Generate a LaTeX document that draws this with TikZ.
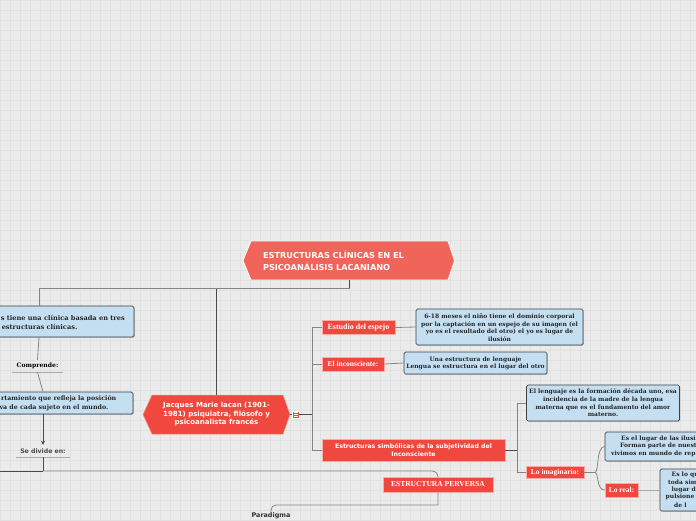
\documentclass[tikz,border=0pt]{standalone}
\usepackage{fontspec}
\setmainfont{Liberation Serif}
\setsansfont{DejaVu Sans}
\newfontfamily\dvserif{DejaVu Serif}
\usetikzlibrary{shadows,arrows.meta}
\definecolor{bgc}{HTML}{EBEBEB}
\definecolor{gridc}{HTML}{E1E1E1}
\definecolor{titlered}{HTML}{F1645A}
\definecolor{nodered}{HTML}{F0483E}
\definecolor{boxblue}{HTML}{C5DFF2}
\definecolor{boxline}{HTML}{3F3F3F}
\definecolor{darkc}{HTML}{4A4A4A}
\definecolor{connc}{HTML}{858585}
\definecolor{lightc}{HTML}{AAAAAA}
\begin{document}
\begin{tikzpicture}[x=1pt,y=-1pt,
  conn/.style={draw=connc, line width=0.8pt},
  dconn/.style={draw=darkc, line width=0.9pt},
  lconn/.style={draw=lightc, line width=1pt},
  bluebox/.style={rectangle, fill=boxblue, draw=boxline, line width=0.7pt, rounded corners=1.5pt, inner sep=0pt,
     drop shadow={shadow xshift=0.8pt, shadow yshift=-0.8pt, opacity=0.35}},
  btext/.style={font=\dvserif\bfseries\fontsize{6}{7.6}\selectfont, align=center, inner sep=0pt, text=black!85},
  redlab/.style={rectangle, fill=nodered, draw=white!55!nodered, line width=0.5pt, inner sep=0pt, text=white,
     font=\rmfamily\bfseries\fontsize{7.5}{8.5}\selectfont,
     drop shadow={shadow xshift=0.6pt, shadow yshift=-0.6pt, opacity=0.3}},
  sublab/.style={inner sep=0pt}
]
\useasboundingbox (0,0) rectangle (696,520);
\begin{scope}
\clip (0,0) rectangle (696,520);
\fill[bgc] (0,0) rectangle (696,520);
\foreach \i in {0,10,...,690} \draw[gridc, line width=0.4pt] (\i,0) -- (\i,520);
\foreach \j in {0,10,...,520} \draw[gridc, line width=0.4pt] (0,\j) -- (696,\j);

% ---------- title ----------
\path[fill=titlered, draw=white, line width=0.8pt] (243,260.5) -- (251,241) -- (448,241) -- (454.5,260.5) -- (448,280) -- (251,280) -- cycle;
\node[inner sep=0pt, minimum width=197, minimum height=39, text width=173, align=left, text=white,
      font=\sffamily\bfseries\fontsize{8.2}{11.6}\selectfont] (title) at (349.5,260.5)
  {ESTRUCTURAS CLÍNICAS EN EL\\PSICOANÁLISIS LACANIANO};

% ---------- Jacques ----------
\path[fill=nodered, draw=white!40!nodered, line width=0.5pt] (143,414.5) -- (152,395) -- (283,395) -- (290,414.5) -- (283,434) -- (152,434) -- cycle;
\node[inner sep=0pt, minimum width=147, minimum height=39, align=center, text=white,
      font=\sffamily\bfseries\fontsize{7}{8.5}\selectfont] (jacques) at (216.5,414.5)
  {Jacques Marie lacan (1901-\\1981) psiquiatra, filósofo y\\psicoanalista francés};
\node[draw=white, fill=nodered, minimum size=7pt, inner sep=0pt, line width=0.5pt] (icon) at (295.5,414.5) {};
\draw[white, line width=0.5pt] (293.5,412.6) -- (297.5,412.6) (293.5,414.5) -- (297.5,414.5) (293.5,416.4) -- (297.5,416.4);

% ---------- left boxes ----------
\node[bluebox, minimum width=190, minimum height=31] (lb1) at (39,321.5) {};
\node[btext, anchor=east, font=\dvserif\bfseries\fontsize{6.6}{9}\selectfont] (lb1a) at (125,318) {s tiene una clínica basada en tres};
\node[btext, anchor=east, font=\dvserif\bfseries\fontsize{6.6}{9}\selectfont] (lb1b) at (77.5,327) {estructuras clínicas.};
\node[sublab, minimum width=51, minimum height=12, font=\dvserif\bfseries\fontsize{6.1}{7}\selectfont] (comp) at (37.5,366) {Comprende:};
\draw[lightc, line width=1.2pt] (comp.south west) -- (comp.south east);
\node[bluebox, minimum width=180, minimum height=22] (lb2) at (43,403) {};
\node[btext, anchor=east, font=\dvserif\bfseries\fontsize{6.3}{8}\selectfont] (lb2a) at (116.5,399) {rtamiento que refleja la posición};
\node[btext, anchor=east, font=\dvserif\bfseries\fontsize{6.3}{8}\selectfont] (lb2b) at (108.5,407.5) {va de cada sujeto en el mundo.};
\node[sublab, text=black!70, minimum width=54, minimum height=12, font=\sffamily\bfseries\fontsize{6.2}{7}\selectfont] (divide) at (43,451) {Se divide en:};
\draw[lightc, line width=1.2pt] (divide.south west) -- (divide.south east);

% ---------- right branch ----------
\node[redlab, minimum width=73, minimum height=14, font=\rmfamily\bfseries\fontsize{8}{9}\selectfont] (estudio) at (358.5,327.5) {Estudio del espejo};
\node[bluebox, minimum width=167, minimum height=36] (blue1) at (499.5,327) {};
\node[btext] (blue1t) at (499.5,327.5) {6-18 meses el niño tiene el dominio corporal\\por la captación en un espejo de su imagen (el\\yo es el resultado del otro) el yo es lugar de\\ilusión};
\node[redlab, minimum width=62, minimum height=14] (incons) at (353,364) {El inconsciente:};
\node[bluebox, minimum width=143, minimum height=22] (blue2) at (475.5,363) {};
\node[btext] (blue2t) at (475.5,363.5) {Una estructura de lenguaje\\Lengua se estructura en el lugar del otro};
\node[redlab, minimum width=183, minimum height=22, align=center, font=\sffamily\bfseries\fontsize{6.2}{8.3}\selectfont] (simb) at (413.5,450)
  {Estructuras simbólicas de la subjetividad del\\Inconsciente};
\node[bluebox, minimum width=153, minimum height=36] (blue3) at (603,403) {};
\node[btext] (blue3t) at (603,403) {El lenguaje es la formación década uno, esa\\incidencia de la madre de la lengua\\materna que es el fundamento del amor\\materno.};
\node[redlab, minimum width=58, minimum height=12] (imag) at (555,472.5) {Lo imaginario:};
\node[bluebox, minimum width=155, minimum height=29] (ilus) at (682.5,446.5) {};
\node[btext, anchor=west] (ilus1) at (621,438.5) {Es el lugar de las ilusi};
\node[btext, anchor=west] (ilus2) at (620,446) {Forman parte de nuestr};
\node[btext, anchor=west] (ilus3) at (611,453.5) {vivimos en mundo de rep};
\node[redlab, minimum width=33, minimum height=14] (real) at (621.5,490) {Lo real:};
\node[bluebox, minimum width=100, minimum height=42] (realbox) at (710,490) {};
\node[btext, anchor=west] (real1) at (671.5,474.5) {Es lo qu};
\node[btext, anchor=west] (real2) at (668,482) {toda sim};
\node[btext, anchor=west] (real3) at (671.5,489.5) {lugar d};
\node[btext, anchor=west] (real4) at (665.5,497) {pulsione};
\node[btext, anchor=west] (real5) at (674,505) {de l};

% ---------- bottom ----------
\node[redlab, minimum width=110, minimum height=15] (perversa) at (438,484.5) {ESTRUCTURA PERVERSA};
\node[sublab, text=black!80, font=\sffamily\bfseries\fontsize{6.4}{7.5}\selectfont] (paradigma) at (271,515.5) {Paradigma};

% ---------- connectors ----------
\draw[dconn] (title.south) -- (349.5,288) coordinate (tj);
\draw[dconn] (tj) -| (jacques.north);
\draw[conn] (tj) -| (lb1.north);
\draw[conn] (lb1.south) -- (comp.north);
\draw[conn] (comp.south) -- (lb2.north);
\draw[dconn, -{Stealth[length=4pt,width=4pt]}] (lb2.south) -- (divide.north);
\draw[dconn] (divide.south) -- (43,471) coordinate (dj);
\coordinate (leftend) at (-3,471);
\draw[dconn] (dj) -- (leftend);
\draw[conn, rounded corners=6pt] (dj) -| (perversa.north);
\draw[conn] (perversa.south) -- (438,505) [rounded corners=5pt] -| (paradigma.north);

\draw[dconn] (jacques.east) -- (icon.west);
\draw[dconn] (icon.east) -- (312,414.5) coordinate (bj);
\draw[conn] (bj) |- (estudio.west);
\draw[conn] (bj) |- (incons.west);
\draw[conn] (bj) |- (simb.west);
\draw[conn] (estudio.east) -- (blue1.west);
\draw[conn] (incons.east) -- (blue2.west);
\draw[dconn] (simb.east) -- (517,450) coordinate (sj);
\draw[conn] (sj) |- (blue3.west);
\draw[conn] (sj) |- (imag.west);
\draw[conn] (imag.east) -- (595,472.5) coordinate (ij);
\draw[conn] (ij) .. controls (599,472.5) and (596,446.5) .. (ilus.west);
\draw[conn] (ij) .. controls (599,472.5) and (596,490) .. (real.west);
\draw[lconn] (real.east) -- (realbox.west);
\end{scope}
\end{tikzpicture}
\end{document}
